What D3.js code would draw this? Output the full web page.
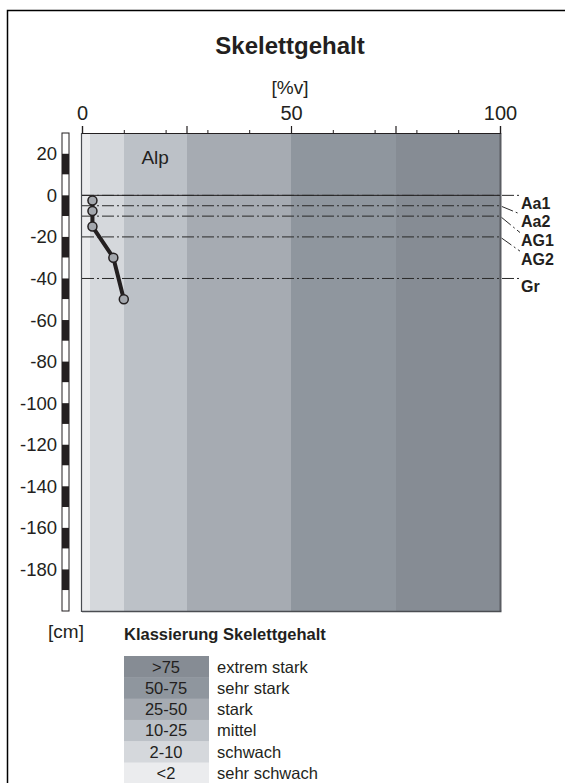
<!DOCTYPE html>
<html>
<head>
<meta charset="utf-8">
<script src="https://cdn.jsdelivr.net/npm/d3@7"></script>
<style>
html,body{margin:0;padding:0;background:#fff;}
svg{display:block;font-family:"Liberation Sans",Arial,sans-serif;}
</style>
</head>
<body>
<div id="chart"></div>
<script>
// ---- data ----
const classLabels = ["<2", "2-10", "10-25", "25-50", "50-75", ">75"];
const classNames = ["sehr schwach", "schwach", "mittel", "stark", "sehr stark", "extrem stark"];
const classBounds = [0, 2, 10, 25, 50, 75, 100];
const classColors = ["#ebecee", "#d5d8dc", "#bcc1c7", "#a6abb2", "#8f969e", "#868c94"];
const horizons = ["Aa1", "Aa2", "AG1", "AG2", "Gr"];
const horizonTop = [0, -5, -10, -20, -40];
const sampleDepth = [-2.5, -7.5, -15, -30, -50];
const skeleton = [2.5, 2.5, 2.5, 7.5, 10];
const xMajorTicks = [0, 25, 50, 75, 100];
const xMinorTicks = [10, 20, 30, 40, 60, 70, 80, 90];
const xLabelTicks = [0, 50, 100];
const yTicks = [20, 0, -20, -40, -60, -80, -100, -120, -140, -160, -180];
const landUse = "Alp";

const W = 565, H = 783;
const svg = d3.select("#chart").append("svg").attr("width", W).attr("height", H);
const ink = "#231f20";

// frame
svg.append("path").attr("d", `M7.5,${H} V10.5 H${W}`).attr("fill", "none").attr("stroke", "#000").attr("stroke-width", 1.5);

const x = d3.scaleLinear().domain([0, 100]).range([82, 500]);
const y = d3.scaleLinear().domain([30, -200]).range([133, 611]);

// title
svg.append("text").attr("x", 290).attr("y", 54).attr("text-anchor", "middle")
  .attr("font-size", 24).attr("font-weight", "bold").attr("fill", ink).text("Skelettgehalt");
svg.append("text").attr("x", 290).attr("y", 94).attr("text-anchor", "middle")
  .attr("font-size", 19).attr("fill", ink).text("[%v]");

// bands
const bands = d3.range(classLabels.length).map(i => ({lo: classBounds[i], hi: classBounds[i + 1], c: classColors[i]}));
svg.append("g").attr("shape-rendering", "crispEdges").selectAll("rect").data(bands).join("rect")
  .attr("x", d => Math.round(x(d.lo))).attr("width", d => Math.round(x(d.hi)) - Math.round(x(d.lo)))
  .attr("y", y(30)).attr("height", y(-200) - y(30)).attr("fill", d => d.c);

// plot border
svg.append("line").attr("x1", x(100) + 0.5).attr("x2", x(100) + 0.5).attr("y1", y(30)).attr("y2", y(-200))
  .attr("stroke", "#5a5d62").attr("stroke-width", 2);
svg.append("line").attr("x1", x(0)).attr("x2", x(100) + 1.5).attr("y1", y(-200) + 0.5).attr("y2", y(-200) + 0.5)
  .attr("stroke", "#4a4d52").attr("stroke-width", 1.5);
svg.append("line").attr("x1", x(0) - 0.5).attr("x2", x(0) - 0.5).attr("y1", y(30)).attr("y2", y(-200) + 1)
  .attr("stroke", "#4a4d52").attr("stroke-width", 1.2);

// top axis
const axTop = d3.axisTop(x).tickValues(xMajorTicks).tickSize(7)
  .tickFormat(d => xLabelTicks.includes(d) ? d : "");
const gTop = svg.append("g").attr("transform", `translate(0,${y(30)})`).call(axTop);
gTop.select(".domain").attr("stroke", ink).attr("stroke-width", 1.2);
gTop.selectAll(".tick line").attr("stroke", ink).attr("stroke-width", 1.2);
gTop.selectAll(".tick text").attr("font-size", 20).attr("fill", ink)
  .attr("font-family", "'Liberation Sans',Arial,sans-serif").attr("dy", -3);
const axMinor = d3.axisTop(x).tickValues(xMinorTicks).tickSize(3).tickFormat("");
const gMinor = svg.append("g").attr("transform", `translate(0,${y(30)})`).call(axMinor);
gMinor.select(".domain").remove();
gMinor.selectAll(".tick line").attr("stroke", ink);

// ruler
const segs = d3.range(30, -200, -10);
svg.append("g").selectAll("rect").data(segs).join("rect")
  .attr("x", 62).attr("width", 7)
  .attr("y", d => y(d)).attr("height", d => y(d - 10) - y(d))
  .attr("fill", d => (d % 20 === 0) ? ink : "#fff");
svg.append("rect").attr("x", 62).attr("width", 7).attr("y", y(30)).attr("height", y(-200) - y(30))
  .attr("fill", "none").attr("stroke", ink).attr("stroke-width", 1);

// y labels
svg.append("g").selectAll("text").data(yTicks).join("text")
  .attr("x", 57).attr("y", d => y(d) + 6.5).attr("text-anchor", "end")
  .attr("font-size", 18.5).attr("fill", ink).text(d => d);
svg.append("text").attr("x", 66).attr("y", 638).attr("text-anchor", "middle")
  .attr("font-size", 19).attr("fill", ink).text("[cm]");

// land use label
svg.append("text").attr("x", x((classBounds[2] + classBounds[3]) / 2)).attr("y", 164)
  .attr("text-anchor", "middle").attr("font-size", 19).attr("fill", ink).text(landUse);

// surface line
svg.append("line").attr("x1", x(0)).attr("x2", x(100)).attr("y1", y(0)).attr("y2", y(0))
  .attr("stroke", ink).attr("stroke-width", 1);

// horizon lines + labels
const labelY = [];
horizonTop.forEach((t, i) => {
  const by = y(t);
  labelY.push(i === 0 ? by : Math.max(by, labelY[i - 1] + 18.6));
});
const hg = svg.append("g");
horizons.forEach((h, i) => {
  const by = y(horizonTop[i]);
  hg.append("path").attr("d", `M${x(0)},${by} L${x(100)},${by} L${x(100) + 20},${labelY[i]}`)
    .attr("fill", "none").attr("stroke", "#2a2a2a").attr("stroke-width", 1)
    .attr("stroke-dasharray", "12,3,2,3");
  hg.append("text").attr("x", x(100) + 21).attr("y", labelY[i] + 13.5)
    .attr("font-size", 16).attr("font-weight", "bold").attr("fill", ink).text(h);
});

// profile line
const pts = skeleton.map((v, i) => [x(v), y(sampleDepth[i])]);
svg.append("path").attr("d", d3.line()(pts)).attr("fill", "none")
  .attr("stroke", ink).attr("stroke-width", 4).attr("stroke-linejoin", "round");
svg.append("g").selectAll("circle").data(pts).join("circle")
  .attr("cx", d => d[0]).attr("cy", d => d[1]).attr("r", 4.5)
  .attr("fill", "#a3a7ad").attr("stroke", ink).attr("stroke-width", 1.5);

// legend
svg.append("text").attr("x", 124).attr("y", 640).attr("font-size", 16.5).attr("font-weight", "bold")
  .attr("fill", ink).text("Klassierung Skelettgehalt");
const rowH = 21.3, top0 = 656;
const order = d3.range(classLabels.length).reverse();
const lg = svg.append("g");
order.forEach((ci, r) => {
  const ry = top0 + r * rowH;
  lg.append("rect").attr("x", 124).attr("y", ry).attr("width", 85).attr("height", rowH + 0.5).attr("fill", classColors[ci]);
  lg.append("text").attr("x", 166).attr("y", ry + 16.5).attr("text-anchor", "middle")
    .attr("font-size", 16.5).attr("fill", ink).text(classLabels[ci]);
  lg.append("text").attr("x", 217).attr("y", ry + 16.5)
    .attr("font-size", 16.5).attr("fill", ink).text(classNames[ci]);
});
</script>
</body>
</html>
